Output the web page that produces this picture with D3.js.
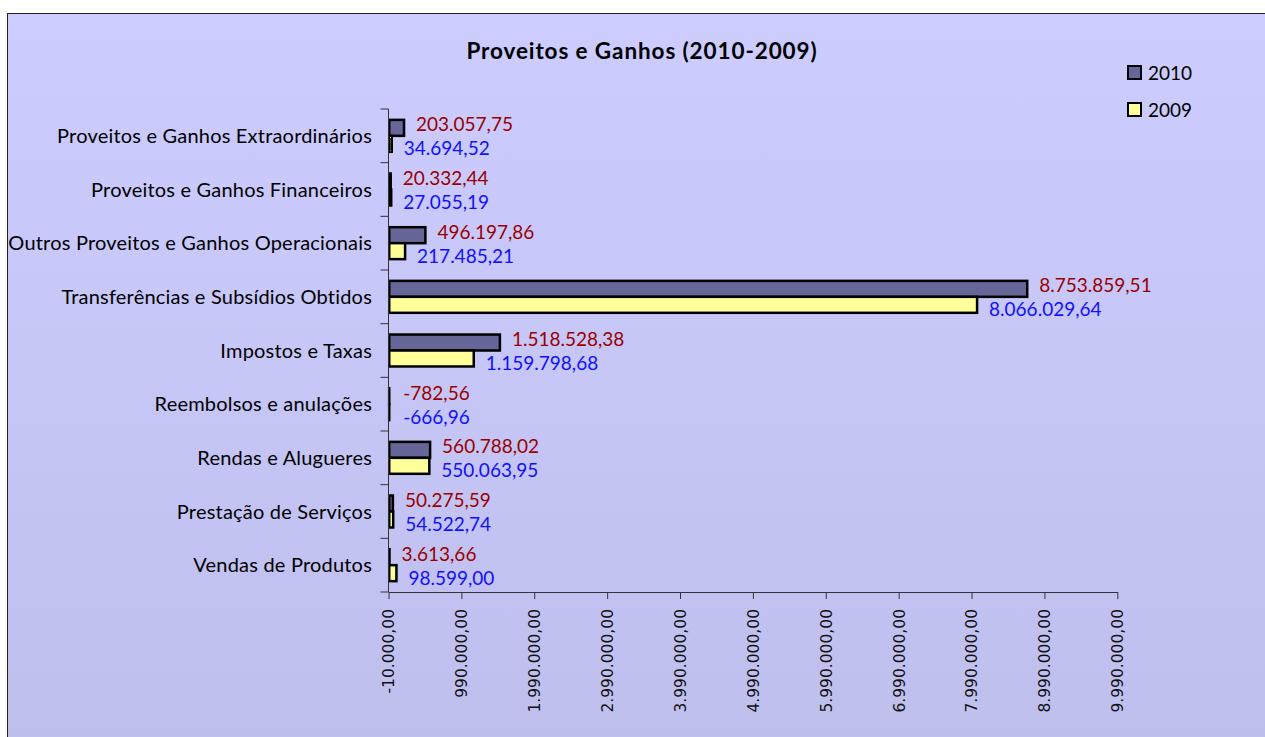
<!DOCTYPE html>
<html>
<head>
<meta charset="utf-8">
<script src="https://cdn.jsdelivr.net/npm/d3@7"></script>
<style>
  html, body { margin: 0; padding: 0; background: #fff; }
  svg { display: block; }
</style>
</head>
<body>
<svg id="chart" width="1265" height="737"></svg>
<script>
// Data, top to bottom as shown
const categories = [
  "Proveitos e Ganhos Extraordinários",
  "Proveitos e Ganhos Financeiros",
  "Outros Proveitos e Ganhos Operacionais",
  "Transferências e Subsídios Obtidos",
  "Impostos e Taxas",
  "Reembolsos e anulações",
  "Rendas e Alugueres",
  "Prestação de Serviços",
  "Vendas de Produtos"
];
const values2010 = [203057.75, 20332.44, 496197.86, 8753859.51, 1518528.38, -782.56, 560788.02, 50275.59, 3613.66];
const values2009 = [34694.52, 27055.19, 217485.21, 8066029.64, 1159798.68, -666.96, 550063.95, 54522.74, 98599.00];
const seriesNames = ["2010", "2009"];
const xTicks = [-10000, 990000, 1990000, 2990000, 3990000, 4990000, 5990000, 6990000, 7990000, 8990000, 9990000];

// Initial values
let plot = { left: 388.5, right: 1117.3, top: 109, bottom: 592 },
  barFill = { "2010": "#666699", "2009": "#ffff99" },
  labelFill = { "2010": "#990000", "2009": "#1010ff" },
  axisColor = "#333",
  fontFamily = "Lato, 'Open Sans', sans-serif",
  fontSize = 19;

// Portuguese number format, plain hyphen for negatives
const pt = d3.formatLocale({ decimal: ",", thousands: ".", grouping: [3], currency: ["", ""], minus: "-" });
const fmt = pt.format(",.2f");

const svg = d3.select("#chart");

// Background with soft vertical gradient
const defs = svg.append("defs");
const grad = defs.append("linearGradient")
  .attr("id", "bg")
  .attr("x1", 0).attr("y1", 0).attr("x2", 0).attr("y2", 1);
grad.append("stop").attr("offset", "0%").attr("stop-color", "#ccccff");
grad.append("stop").attr("offset", "100%").attr("stop-color", "#bfbfee");

svg.append("rect")
  .attr("x", 7.5).attr("y", 13.5)
  .attr("width", 1270).attr("height", 740)
  .attr("fill", "url(#bg)")
  .attr("stroke", "#222")
  .attr("stroke-width", 1);

// Title
svg.append("text")
  .attr("x", 642).attr("y", 59)
  .attr("text-anchor", "middle")
  .attr("font-family", fontFamily)
  .attr("font-weight", "bold")
  .attr("font-size", 22.5)
  .attr("letter-spacing", 0.9)
  .text("Proveitos e Ganhos (2010-2009)");

// set the scales
const xScale = d3.scaleLinear()
  .domain([-10000, 9990000])
  .range([plot.left, plot.right]);

const yScale = d3.scaleBand()
  .domain(categories)
  .range([plot.top, plot.bottom]);

const inner = d3.scaleBand()
  .domain(seriesNames)
  .range([0, yScale.bandwidth()])
  .paddingOuter(0.68)
  .paddingInner(0);

// Bars and their value labels (labels nudged apart like Excel does)
const series = [
  { name: "2010", values: values2010, dy: -3 },
  { name: "2009", values: values2009, dy: 5 }
];

series.forEach(s => {
  const g = svg.append("g");
  g.selectAll("rect")
    .data(categories)
    .join("rect")
    .attr("x", (d, i) => xScale(Math.min(0, s.values[i])))
    .attr("y", d => yScale(d) + inner(s.name))
    .attr("width", (d, i) => Math.abs(xScale(s.values[i]) - xScale(0)))
    .attr("height", inner.bandwidth())
    .attr("fill", barFill[s.name])
    .attr("stroke", "#000")
    .attr("stroke-width", 2.5);

  g.selectAll("text")
    .data(categories)
    .join("text")
    .attr("x", (d, i) => xScale(Math.max(0, s.values[i])) + (s.values[i] < 0 ? 14 : 12))
    .attr("y", d => yScale(d) + inner(s.name) + inner.bandwidth() / 2 + s.dy)
    .attr("dy", "0.35em")
    .attr("font-family", fontFamily)
    .attr("font-size", fontSize)
    .attr("fill", labelFill[s.name])
    .text((d, i) => fmt(s.values[i]));
});

// Vertical category axis
svg.append("line")
  .attr("x1", plot.left).attr("x2", plot.left)
  .attr("y1", plot.top).attr("y2", plot.bottom)
  .attr("stroke", axisColor);

const boundaries = categories.map(c => yScale(c)).concat([plot.bottom]);
svg.append("g")
  .selectAll("line")
  .data(boundaries)
  .join("line")
  .attr("x1", plot.left - 8).attr("x2", plot.left)
  .attr("y1", d => d).attr("y2", d => d)
  .attr("stroke", axisColor);

svg.append("g")
  .selectAll("text")
  .data(categories)
  .join("text")
  .attr("x", 372)
  .attr("y", d => yScale(d) + yScale.bandwidth() / 2)
  .attr("dy", "0.35em")
  .attr("text-anchor", "end")
  .attr("font-family", fontFamily)
  .attr("font-size", 20)
  .attr("letter-spacing", 0.2)
  .attr("fill", "#000")
  .text(d => d);

// Horizontal value axis
const xAxis = svg.append("g")
  .attr("transform", "translate(0," + plot.bottom + ")")
  .call(d3.axisBottom(xScale).tickValues(xTicks).tickFormat(fmt).tickSize(7).tickSizeOuter(0));

xAxis.select(".domain").attr("stroke", axisColor);
xAxis.selectAll(".tick line").attr("stroke", axisColor);
xAxis.selectAll(".tick text")
  .attr("transform", "rotate(-90)")
  .attr("x", -17)
  .attr("y", 0)
  .attr("dy", "0.35em")
  .attr("text-anchor", "end")
  .attr("font-family", "'DejaVu Sans', sans-serif")
  .attr("font-size", 15.5)
  .attr("fill", "#111");

// Legend
const legend = svg.append("g")
  .selectAll("g")
  .data(seriesNames)
  .join("g")
  .attr("transform", (d, i) => "translate(1128," + (66 + i * 37) + ")");

legend.append("rect")
  .attr("width", 13).attr("height", 13)
  .attr("fill", d => barFill[d])
  .attr("stroke", "#000")
  .attr("stroke-width", 2);

legend.append("text")
  .attr("x", 20).attr("y", 7)
  .attr("dy", "0.35em")
  .attr("font-family", fontFamily)
  .attr("font-size", fontSize)
  .text(d => d);
</script>
</body>
</html>
